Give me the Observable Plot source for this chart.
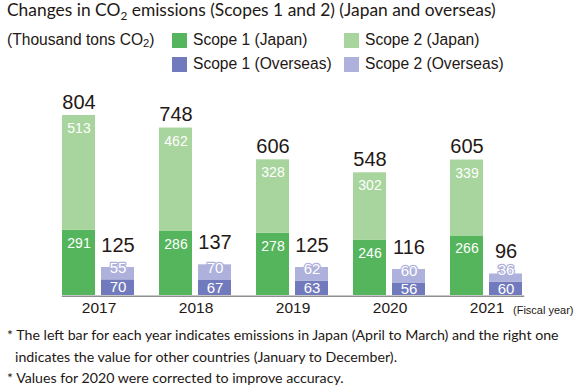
<!DOCTYPE html>
<html><head><meta charset="utf-8">
<script src="https://cdn.jsdelivr.net/npm/d3@7"></script>
<script src="https://cdn.jsdelivr.net/npm/@observablehq/plot@0.6"></script>
<style>
body{margin:0;background:#fff;}
#wrap{position:relative;width:580px;height:386px;color:#231815;font-family:"Liberation Sans",Arial,sans-serif;}
.title{position:absolute;left:7px;top:0px;font-family:Lato,"Open Sans",sans-serif;font-size:17.4px;line-height:20px;white-space:nowrap;}
.sub{font-size:0.68em;position:relative;top:0.35em;line-height:0;}
.lsub{font-size:0.72em;position:relative;top:0.2em;line-height:0;}
.unit{position:absolute;left:7px;font-size:15.6px;line-height:16px;white-space:nowrap;}
.lg{position:absolute;font-size:15.6px;line-height:16px;white-space:nowrap;display:flex;align-items:center;}
.sw{display:inline-block;width:15px;height:15px;margin-right:6px;}
#chart{position:absolute;left:0;top:78px;}
.notes{position:absolute;left:7px;top:324px;font-family:Lato,"Open Sans",sans-serif;font-size:14.2px;line-height:21.5px;white-space:nowrap;}
.notes div{padding-left:8px;text-indent:-8px;}
</style></head>
<body>
<div id="wrap">
  <div class="title">Changes in CO<span class="sub">2</span> emissions (Scopes 1 and 2) (Japan and overseas)</div>
  <div id="legend"></div>
  <div id="chart"></div>
  <div class="notes">
    <div>* The left bar for each year indicates emissions in Japan (April to March) and the right one<br>indicates the value for other countries (January to December).</div>
    <div>* Values for 2020 were corrected to improve accuracy.</div>
  </div>
</div>
<script>
const years = [2017, 2018, 2019, 2020, 2021];
const scope1Japan = [291, 286, 278, 246, 266];
const scope2Japan = [513, 462, 328, 302, 339];
const scope1Overseas = [70, 67, 63, 56, 60];
const scope2Overseas = [55, 70, 62, 60, 36];
const regions = ["Japan", "Overseas"];
const seriesNames = ["Scope 1 (Japan)", "Scope 2 (Japan)", "Scope 1 (Overseas)", "Scope 2 (Overseas)"];
const seriesColors = ["#55b55c", "#a8d59d", "#707abc", "#aeb1db"];
const unitLabel = "(Thousand tons CO";
const fiscalLabel = "(Fiscal year)";

const rows = [];
years.forEach((year, i) => {
  rows.push({year, region: "Japan", scope: 1, series: seriesNames[0], value: scope1Japan[i]});
  rows.push({year, region: "Japan", scope: 2, series: seriesNames[1], value: scope2Japan[i]});
  rows.push({year, region: "Overseas", scope: 1, series: seriesNames[2], value: scope1Overseas[i]});
  rows.push({year, region: "Overseas", scope: 2, series: seriesNames[3], value: scope2Overseas[i]});
});
const japanRows = rows.filter(d => d.region === "Japan");
const overseasRows = rows.filter(d => d.region === "Overseas");
const totals = years.flatMap(year => regions.map(region => ({
  year, region,
  total: d3.sum(rows.filter(d => d.year === year && d.region === region), d => d.value)
})));

// legend
const legend = document.getElementById("legend");
const unit = document.createElement("div");
unit.className = "unit";
unit.style.top = "32px";
unit.innerHTML = unitLabel + '<span class="lsub">2</span>)';
legend.appendChild(unit);
const legendCols = [172, 344];
const legendRows = [32, 56];
seriesNames.forEach((name, i) => {
  const el = document.createElement("div");
  el.className = "lg";
  el.style.left = legendCols[i % 2] + "px";
  el.style.top = legendRows[Math.floor(i / 2)] + "px";
  el.innerHTML = `<span class="sw" style="background:${seriesColors[i]}"></span><span>${name}</span>`;
  legend.appendChild(el);
});

const font = "Liberation Sans, Arial, sans-serif";
const chart = Plot.plot({
  width: 580, height: 244,
  marginTop: 37, marginBottom: 27, marginLeft: 7, marginRight: 2,
  fx: {domain: years, paddingInner: 0.245, paddingOuter: 0.536, axis: null, label: null},
  x: {domain: regions, paddingInner: 0.15, paddingOuter: 0, axis: null, label: null},
  y: {axis: null},
  color: {domain: seriesNames, range: seriesColors},
  style: {fontFamily: font, overflow: "visible", color: "#231815"},
  marks: [
    Plot.barY(rows, {fx: "year", x: "region", y: "value", fill: "series"}),
    Plot.frame({anchor: "bottom", facet: "super", stroke: "#8f8f8f", strokeWidth: 1.5, dy: 0.75}),
    Plot.text(japanRows, Plot.stackY2({fx: "year", x: "region", y: "value", text: "value", dy: 13, fill: "white", fontSize: 14, fontWeight: 400})),
    Plot.text(overseasRows, Plot.stackY({fx: "year", x: "region", y: "value", text: d => d.scope === 1 ? d.value : "", fill: "white", fontSize: 15, fontWeight: 400})),
    Plot.text(overseasRows, Plot.stackY1({fx: "year", x: "region", y: "value", text: d => d.scope === 2 ? d.value : "", fill: "white", stroke: "#aeb1db", strokeWidth: 2.5, fontSize: 15, fontWeight: 400, dy: -12})),
    Plot.text(totals.filter(d => d.region === "Japan"), {fx: "year", x: "region", y: "total", text: "total", dy: -13, fontSize: 20, fontWeight: 400, fill: "#231815"}),
    Plot.text(totals.filter(d => d.region === "Overseas"), {fx: "year", x: "region", y: "total", text: "total", dy: -22, fontSize: 20, fontWeight: 400, fill: "#231815"}),
    Plot.text(years, {fx: d => d, frameAnchor: "bottom", dy: 17, text: d => String(d), fontSize: 15.5, fontWeight: 400, fill: "#231815"}),
    Plot.text(years.slice(-1), {fx: d => d, x: () => "Overseas", frameAnchor: "bottom", dy: 18, dx: 7, textAnchor: "start", text: () => fiscalLabel, fontSize: 11, fontWeight: 400, fill: "#231815"})
  ]
});
document.getElementById("chart").appendChild(chart);
</script>
</body></html>
